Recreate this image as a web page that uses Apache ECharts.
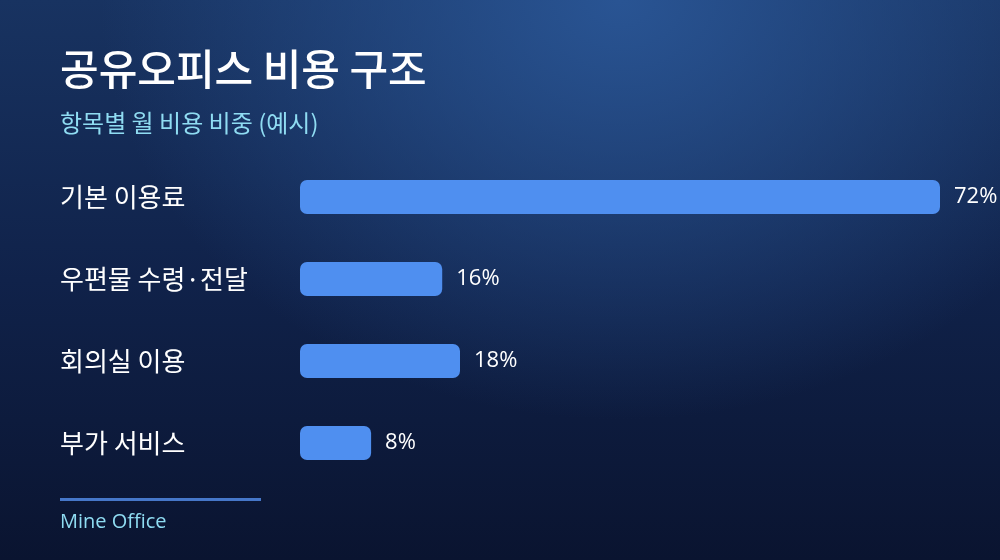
<!DOCTYPE html>
<html>
<head>
<meta charset="utf-8">
<script src="https://cdn.jsdelivr.net/npm/echarts@6/dist/echarts.min.js"></script>
<style>
  html, body { margin: 0; padding: 0; }
  #chart-container {
    width: 1000px;
    height: 560px;
    background:
      radial-gradient(ellipse 520px 420px at 62% 0%, rgba(42, 86, 150, 0.95) 0%, rgba(42, 86, 150, 0) 100%),
      linear-gradient(180deg, #183361 0%, #10224a 50%, #0a1430 100%);
  }
</style>
</head>
<body>
<div id="chart-container"></div>
<script>
var categories = ['기본 이용료', '우편물 수령·전달', '회의실 이용', '부가 서비스'];
var shares = [72, 16, 18, 8];

var dom = document.getElementById('chart-container');
var myChart = echarts.init(dom, null, { renderer: 'canvas' });

var fontKr = '"Noto Sans CJK KR", "Noto Sans", sans-serif';

var option = {
  backgroundColor: 'transparent',
  title: [
    {
      text: '공유오피스 비용 구조',
      left: 60,
      top: 48,
      padding: 0,
      textStyle: { color: '#ffffff', fontSize: 42, fontWeight: 500, fontFamily: fontKr }
    },
    {
      text: '항목별 월 비용 비중 (예시)',
      left: 60,
      top: 111,
      padding: 0,
      textStyle: { color: '#8fdcf2', fontSize: 24, fontWeight: 'normal', fontFamily: fontKr }
    },
    {
      text: 'Mine Office',
      left: 60,
      top: 512,
      padding: 0,
      textStyle: { color: '#8fdcf2', fontSize: 20, fontWeight: 'normal', fontFamily: '"Open Sans", "Noto Sans", sans-serif' }
    }
  ],
  graphic: [
    {
      type: 'rect',
      shape: { x: 60, y: 498, width: 201, height: 3 },
      style: { fill: '#4677c9' }
    }
  ],
  grid: { left: 300, right: 60, top: 156, bottom: 76, containLabel: false },
  xAxis: {
    type: 'value',
    min: 0,
    max: 72,
    show: false
  },
  yAxis: {
    type: 'category',
    inverse: true,
    data: categories,
    axisLine: { show: false },
    axisTick: { show: false },
    splitLine: { show: false },
    axisLabel: {
      align: 'left',
      margin: 240,
      color: '#ffffff',
      fontSize: 26,
      fontFamily: fontKr
    }
  },
  series: [
    {
      type: 'bar',
      data: shares,
      barWidth: 34,
      itemStyle: { color: '#4f8ff0', borderRadius: 7 },
      label: {
        show: true,
        position: 'right',
        distance: 14,
        formatter: '{c}%',
        color: '#ffffff',
        fontSize: 22,
        fontFamily: '"Open Sans", "Noto Sans", sans-serif'
      },
      silent: true
    }
  ],
  animation: false
};

myChart.setOption(option);
window.addEventListener('resize', myChart.resize);
</script>
</body>
</html>
